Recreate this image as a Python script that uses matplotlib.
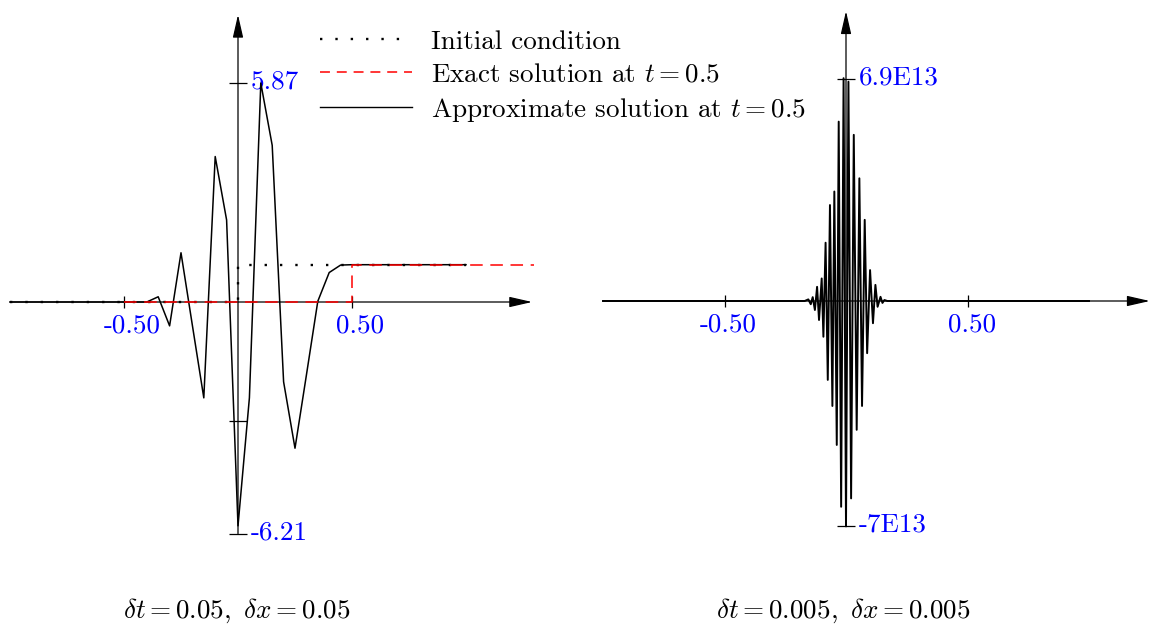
import matplotlib
matplotlib.use('Agg')
import matplotlib.pyplot as plt
from matplotlib.lines import Line2D

plt.rcParams['font.family'] = 'cmr10'
plt.rcParams['mathtext.fontset'] = 'cm'
plt.rcParams['axes.unicode_minus'] = False

# ---- data: left panel (dt = dx = 0.05)
ic_x = [-1.0, 0.0, 0.0, 1.0]
ic_y = [0.0, 0.0, 1.0, 1.0]
exact_x = [-0.5, 0.5, 0.5, 1.3]
exact_y = [0.0, 0.0, 1.0, 1.0]
approx_x = [-1.0, -0.40, -0.35, -0.30, -0.25, -0.20, -0.15, -0.10, -0.05, 0.0,
            0.05, 0.10, 0.15, 0.20, 0.25, 0.30, 0.35, 0.40, 0.45, 0.50, 1.0]
approx_y = [0.0, 0.0, 0.14, -0.64, 1.32, -0.63, -2.57, 3.90, 2.20, -6.0,
            -2.57, 5.87, 4.20, -2.14, -3.92, -1.96, 0.02, 0.79, 0.99, 1.0, 1.0]
left_yticks = [5.87, -6.21]
left_ylabels = ['5.87', '-6.21']

# ---- data: right panel (dt = dx = 0.005), values in units of 1E13
fine_x = [-1.0, -0.17, -0.155, -0.145, -0.137, -0.128, -0.119, -0.111, -0.100, -0.093,
          -0.084, -0.075, -0.066, -0.056, -0.048, -0.038, -0.030, -0.020, -0.010, 0.0,
          0.010, 0.021, 0.032, 0.044, 0.055, 0.066, 0.077, 0.087, 0.099, 0.111,
          0.121, 0.130, 0.142, 0.150, 0.158, 0.17, 1.0]
fine_y = [0.0, 0.0, 0.05, -0.10, 0.12, -0.28, 0.44, -0.59, 0.70, -1.11,
          1.81, -2.45, 2.98, -3.26, 3.40, -4.47, 5.57, -6.39, 6.92, -7.0,
          6.81, -6.13, 5.16, -4.00, 3.81, -3.26, 2.52, -1.62, 0.96, -0.69,
          0.50, -0.18, 0.13, -0.06, 0.03, 0.0, 0.0]
right_yticks = [6.9, -7.0]
right_ylabels = ['6.9E13', '-7E13']

xticks = [-0.5, 0.5]
xlabels = ['-0.50', '0.50']

FS = 19.5
W, H = 1153, 624
fig = plt.figure(figsize=(W / 100, H / 100), dpi=100)


def make_axes(ox, oy, sx, sy, xlim, ylim):
    # ox, oy: pixel position of the data origin, sx, sy: pixels per unit
    l = ox + xlim[0] * sx
    r = ox + xlim[1] * sx
    t = oy - ylim[1] * sy
    b = oy - ylim[0] * sy
    ax = fig.add_axes([l / W, 1 - b / H, (r - l) / W, (b - t) / H])
    ax.set_xlim(xlim)
    ax.set_ylim(ylim)
    ax.axis('off')
    return ax


def draw_frame(ax, xr, yr, yt, ylab, xoff):
    arrow = dict(arrowstyle='-|>,head_length=0.7,head_width=0.16', color='black',
                 lw=0.9, mutation_scale=20, shrinkA=0, shrinkB=0)
    ax.annotate('', xy=(xr[1], 0), xytext=(xr[0], 0), arrowprops=arrow, zorder=2)
    ax.annotate('', xy=(0, yr[1]), xytext=(0, yr[0]), arrowprops=arrow, zorder=2)
    ax.plot(xticks, [0, 0], ls='none', marker='|', ms=8, mew=0.9, color='black', clip_on=False)
    ax.plot([0] * len(yt), yt, ls='none', marker='_', ms=13, mew=0.9, color='black', clip_on=False)
    for x, s in zip(xticks, xlabels):
        ax.annotate(s, xy=(x, 0), xytext=(xoff, -17), textcoords='offset points',
                    ha='center', va='center', color='blue', fontsize=FS)
    for y, s in zip(yt, ylab):
        ax.annotate(s, xy=(0, y), xytext=(9, 1), textcoords='offset points',
                    ha='left', va='center', color='blue', fontsize=FS)


dot_style = (0, (1, 5.5))
dash_plot = (0, (8.2, 5))

# left panel
ax1 = make_axes(238, 302, 228, 37.3, (-1.04, 1.33), (-6.7, 8.0))
draw_frame(ax1, (-1.0, 1.29), (-6.21, 7.7), left_yticks + [-3.2], left_ylabels + [''], 6)
ax1.plot(ic_x, ic_y, color='black', lw=1.7, ls=dot_style, dash_capstyle='butt', clip_on=False, zorder=3)
ax1.plot(exact_x, exact_y, color='red', lw=1.1, ls=dash_plot, clip_on=False, zorder=4)
ax1.plot(approx_x, approx_y, color='black', lw=1.1, clip_on=False, zorder=3)

# right panel
ax2 = make_axes(846, 301, 243, 32.2, (-1.02, 1.26), (-7.5, 9.2))
draw_frame(ax2, (-1.0, 1.25), (-7.0, 9.0), right_yticks, right_ylabels, 3)
ax2.plot(fine_x, fine_y, color='black', lw=1.4, clip_on=False, zorder=3)

# legend
handles = [Line2D([], [], color='black', lw=1.7, ls=dot_style, dash_capstyle='butt'),
           Line2D([], [], color='red', lw=1.1, ls=(0, (6.5, 4.5))),
           Line2D([], [], color='black', lw=1.0)]
labels = ['Initial condition', r'Exact solution at $t = 0.5$', r'Approximate solution at $t = 0.5$']
fig.legend(handles, labels, loc='upper left', bbox_to_anchor=(320 / W, 1 - 30 / H),
           frameon=False, fontsize=FS, handlelength=3.4, handletextpad=0.7,
           labelspacing=0.33, borderpad=0, borderaxespad=0)

# captions
fig.text(237 / W, 1 - 611 / H, r'$\delta t = 0.05,\ \delta x = 0.05$', ha='center', va='center', fontsize=FS)
fig.text(843 / W, 1 - 611 / H, r'$\delta t = 0.005,\ \delta x = 0.005$', ha='center', va='center', fontsize=FS)

fig.savefig('out.png', dpi=100)
